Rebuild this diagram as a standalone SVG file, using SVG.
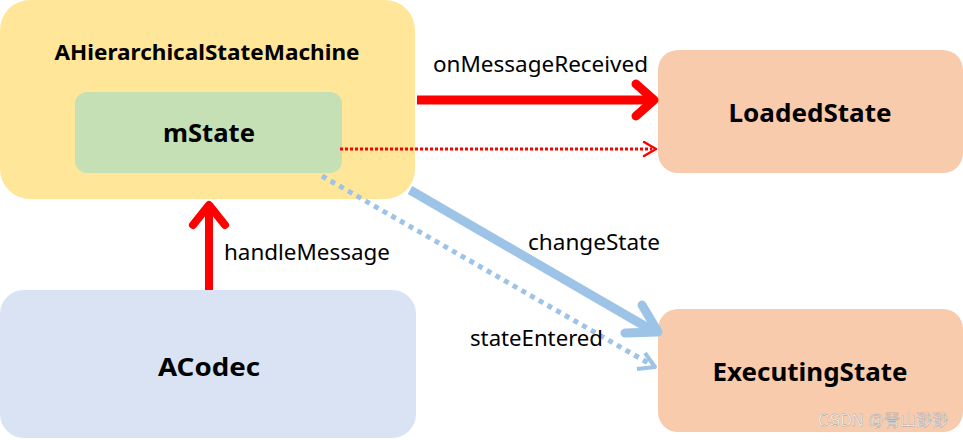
<svg xmlns="http://www.w3.org/2000/svg" width="963" height="440" viewBox="0 0 963 440">
<style>
.b{font-family:"Noto Sans","Liberation Sans",sans-serif;font-weight:bold;fill:#000;text-anchor:middle}
.l{font-family:"Noto Sans","Liberation Sans",sans-serif;font-size:21px;fill:#000}
.red{stroke:#FF0000;fill:none;stroke-linecap:round;stroke-linejoin:round}
.blue{stroke:#9DC3E6;fill:none;stroke-linejoin:round}
</style>
<rect width="963" height="440" fill="#fff"/>
<g id="ahsm">
<rect x="0" y="0" width="415" height="199" rx="30" fill="#FFE699"/>
<text class="b" x="207" y="60" font-size="21" textLength="305" lengthAdjust="spacingAndGlyphs">AHierarchicalStateMachine</text>
</g>
<g id="mstate">
<rect x="75" y="92" width="267" height="81" rx="12" fill="#C5E0B4"/>
<text class="b" x="209" y="142" font-size="25" textLength="92" lengthAdjust="spacingAndGlyphs">mState</text>
</g>
<g id="loaded">
<rect x="658" y="50" width="305" height="123" rx="20" fill="#F8CBAD"/>
<text class="b" x="810" y="122" font-size="25" textLength="163" lengthAdjust="spacingAndGlyphs">LoadedState</text>
</g>
<g id="executing">
<rect x="658" y="309" width="305" height="123" rx="20" fill="#F8CBAD"/>
<text class="b" x="810" y="381" font-size="25" textLength="195" lengthAdjust="spacingAndGlyphs">ExecutingState</text>
</g>
<g id="acodec">
<rect x="0" y="290" width="416" height="148" rx="24" fill="#DAE3F3"/>
<text class="b" x="209" y="376" font-size="25" textLength="102" lengthAdjust="spacingAndGlyphs">ACodec</text>
</g>
<g id="connectors">
<line x1="417" y1="100" x2="652" y2="100" stroke="#FF0000" stroke-width="9"/>
<polyline class="red" points="636,84 654,100 636,116" stroke-width="9"/>
<line x1="340" y1="149" x2="652" y2="149" stroke="#FF0000" stroke-width="3" stroke-dasharray="3,2"/>
<polyline class="red" points="644,142 656,149 644,156" stroke-width="2.5"/>
<line x1="209" y1="290" x2="209" y2="208" stroke="#FF0000" stroke-width="8"/>
<polyline class="red" points="193,225 209,205 225,225" stroke-width="8"/>
<line x1="410" y1="190" x2="655" y2="332" stroke="#9DC3E6" stroke-width="9"/>
<polyline class="blue" points="642,305 658,332 625,333" stroke-width="9" stroke-linecap="round"/>
<line x1="322" y1="176" x2="650" y2="364" stroke="#9DC3E6" stroke-width="5" stroke-dasharray="5,5"/>
<polyline class="blue" points="645,353 655,367 637,369" stroke-width="4"/>
<text class="l" x="433" y="72" textLength="215" lengthAdjust="spacingAndGlyphs">onMessageReceived</text>
<text class="l" x="528" y="250" textLength="132" lengthAdjust="spacingAndGlyphs">changeState</text>
<text class="l" x="224" y="260" textLength="166" lengthAdjust="spacingAndGlyphs">handleMessage</text>
<text class="l" x="470" y="346" textLength="133" lengthAdjust="spacingAndGlyphs">stateEntered</text>
</g>
<text x="948" y="426" font-family="'Liberation Sans','Noto Sans CJK SC',sans-serif" font-size="16" fill="#fff" stroke="#999" stroke-width="0.4" text-anchor="end">CSDN @青山渺渺</text>
</svg>
